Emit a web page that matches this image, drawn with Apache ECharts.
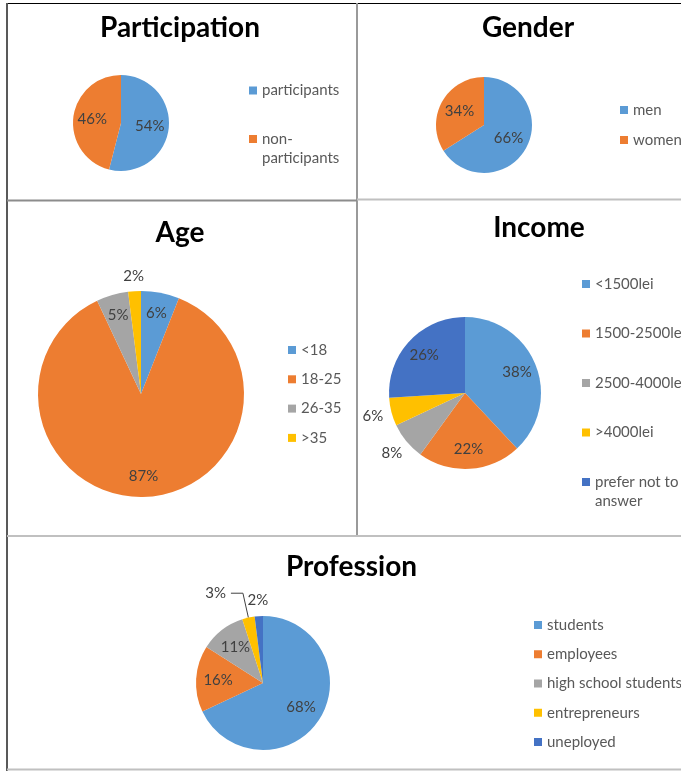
<!DOCTYPE html>
<html>
<head>
<meta charset="utf-8">
<script src="https://cdn.jsdelivr.net/npm/echarts@6/dist/echarts.min.js"></script>
<style>
  html, body { margin: 0; padding: 0; background: #fff; }
  #main { width: 681px; height: 771px; }
</style>
</head>
<body>
<div id="main"></div>
<script>
// 数据
const participationNames = ['participants', 'non-participants'];
const participationValues = [54, 46];

const genderNames = ['men', 'women'];
const genderValues = [66, 34];

const ageNames = ['<18', '18-25', '26-35', '>35'];
const ageValues = [6, 87, 5, 2];

const incomeNames = ['<1500lei', '1500-2500lei', '2500-4000lei', '>4000lei', 'prefer not to answer'];
const incomeValues = [38, 22, 8, 6, 26];

const professionNames = ['students', 'employees', 'high school students', 'entrepreneurs', 'uneployed'];
const professionValues = [68, 16, 11, 3, 2];

const palette = ['#5B9BD5', '#ED7D31', '#A5A5A5', '#FFC000', '#4472C4'];

// 布局 (label: in = 内部, out = 饼外, line = 带引导线)
const panels = [
    {title: 'Participation', tx: 180, ty: 28, names: participationNames, values: participationValues,
     center: [121, 123], r: 48, inDist: 26, outDist: 60, place: ['in', 'in'],
     legendLeft: 249, legendTop: 81, legendGap: 29.5, legendH: 27},
    {title: 'Gender', tx: 528, ty: 28, names: genderNames, values: genderValues,
     center: [484, 125], r: 48, inDist: 25, outDist: 60, place: ['in', 'in'],
     legendLeft: 620, legendTop: 100.5, legendGap: 11, legendH: 8},
    {title: 'Age', tx: 180, ty: 233, names: ageNames, values: ageValues,
     center: [141, 394], r: 103, inDist: 79, outDist: 115, place: ['in', 'in', 'in', 'out'],
     legendLeft: 288, legendTop: 340.5, legendGap: 10.3, legendH: 8},
    {title: 'Income', tx: 539, ty: 228, names: incomeNames, values: incomeValues,
     center: [465, 393], r: 76, inDist: 53, outDist: 92, place: ['in', 'in', 'out', 'out', 'in'],
     legendLeft: 582, legendTop: 274.5, legendGap: 30.5, legendH: 27},
    {title: 'Profession', tx: 351.5, ty: 567, names: professionNames, values: professionValues,
     center: [263, 683], r: 67, inDist: 42, outDist: 80, place: ['in', 'in', 'in', 'line', 'out'],
     legendLeft: 534, legendTop: 615.5, legendGap: 10.25, legendH: 8}
];

const font = 'Lato';
const labelStyle = {fontFamily: font, fontSize: 15, color: '#404040', formatter: '{c}%', rotate: 0};

// 图例方块: 单行居中, 两行时方块对齐第一行
const squareIcon = 'path://M0,0H8V8H0Z';
const topSquareIcon = 'path://M0,0H8V8H0ZM0,27H0.01V27.01H0Z';

function wrapName(name) {
    return name.replace('non-', 'non-\n').replace('not to ', 'not to\n');
}

let series = [];
let legends = [];
let titles = [];

panels.forEach(function (p) {
    // 饼图本体
    series.push({
        type: 'pie',
        center: p.center,
        radius: [0, p.r],
        startAngle: 90,
        clockwise: true,
        silent: true,
        avoidLabelOverlap: false,
        label: Object.assign({show: false, position: 'outside'}, labelStyle),
        labelLine: {show: false, length: 25, length2: 12, smooth: false,
            lineStyle: {color: '#404040', width: 1}},
        data: p.values.map(function (v, i) {
            let item = {name: p.names[i], value: v, itemStyle: {color: palette[i]}};
            if (p.place[i] === 'line') {
                item.label = {show: true};
                item.labelLine = {show: true};
            }
            return item;
        })
    });
    // 标签环 (零宽度, 透明)
    [['in', p.inDist], ['out', p.outDist]].forEach(function (ring) {
        series.push({
            type: 'pie',
            center: p.center,
            radius: [ring[1], ring[1]],
            startAngle: 90,
            clockwise: true,
            silent: true,
            avoidLabelOverlap: false,
            itemStyle: {color: 'transparent', borderWidth: 0},
            label: Object.assign({position: 'inside'}, labelStyle),
            labelLine: {show: false},
            data: p.values.map(function (v, i) {
                return {name: p.names[i], value: v, label: {show: p.place[i] === ring[0]}};
            })
        });
    });

    legends.push({
        orient: 'vertical',
        left: p.legendLeft,
        top: p.legendTop,
        padding: 0,
        itemWidth: 8,
        itemHeight: p.legendH,
        itemGap: p.legendGap,
        icon: squareIcon,
        symbolKeepAspect: true,
        selectedMode: false,
        formatter: wrapName,
        textStyle: {fontFamily: font, fontSize: 15, color: '#595959', lineHeight: 19},
        data: p.names.map(function (n) {
            if (wrapName(n) !== n) {
                return {name: n, icon: topSquareIcon};
            }
            return n;
        })
    });

    titles.push({
        text: p.title,
        left: p.tx,
        top: p.ty,
        textAlign: 'center',
        textVerticalAlign: 'middle',
        padding: 0,
        textStyle: {fontFamily: font, fontSize: 28, fontWeight: 'bold', color: '#000'}
    });
});

function line(x1, y1, x2, y2, color, w) {
    return {type: 'line', silent: true, shape: {x1: x1, y1: y1, x2: x2, y2: y2},
        style: {stroke: color, lineWidth: w}};
}

let myChart = echarts.init(document.getElementById('main'));
myChart.setOption({
    animation: false,
    title: titles,
    legend: legends,
    series: series,
    graphic: [
        line(7, 3.5, 681, 3.5, '#000', 1),
        line(7, 3, 7, 771, '#595959', 2),
        line(357, 3, 357, 536, '#9a9a9a', 2),
        line(7, 200.5, 357, 200.5, '#8c8c8c', 2),
        line(357, 199.5, 681, 199.5, '#c0c0c0', 2),
        line(7, 536, 681, 536, '#c0c0c0', 2),
        line(7, 769.5, 681, 769.5, '#c0c0c0', 2)
    ]
});
</script>
</body>
</html>
